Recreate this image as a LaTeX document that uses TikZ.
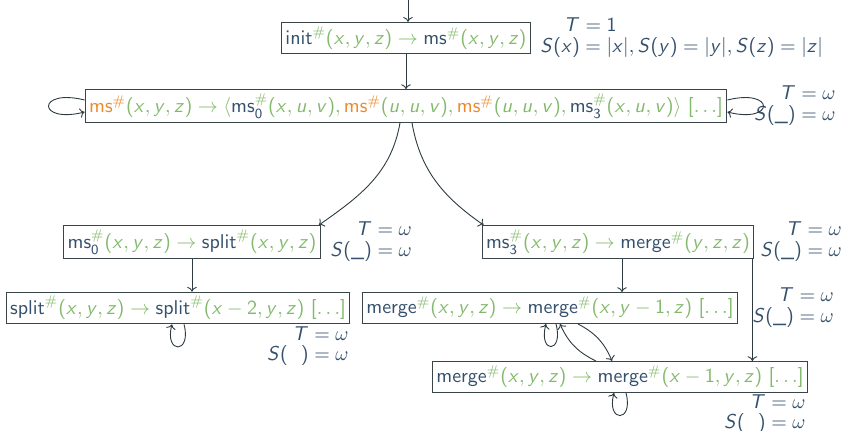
\documentclass[tikz,border=0pt]{standalone}
\usepackage{xcolor}
\usepackage{tikz}
\usetikzlibrary{arrows.meta,positioning,calc}
\renewcommand{\familydefault}{\sfdefault}
% sans serif math, as in the slides
\DeclareSymbolFont{operators}{OT1}{cmss}{m}{n}
\DeclareSymbolFont{sfletters}{OT1}{cmss}{m}{sl}
\DeclareMathSymbol{x}{\mathalpha}{sfletters}{`x}
\DeclareMathSymbol{y}{\mathalpha}{sfletters}{`y}
\DeclareMathSymbol{z}{\mathalpha}{sfletters}{`z}
\DeclareMathSymbol{u}{\mathalpha}{sfletters}{`u}
\DeclareMathSymbol{v}{\mathalpha}{sfletters}{`v}
\DeclareMathSymbol{S}{\mathalpha}{sfletters}{`S}
\DeclareMathSymbol{T}{\mathalpha}{sfletters}{`T}
\definecolor{fnblue}{HTML}{34506C}
\definecolor{argreen}{HTML}{82B96B}
\definecolor{recorange}{HTML}{EB8A2A}
\definecolor{boxgray}{HTML}{3A4548}
\definecolor{linedark}{HTML}{2D3B40}
\newcommand{\fnc}{\color{fnblue}}
\newcommand{\argc}{\color{argreen}}
\newcommand{\recc}{\color{recorange}}
\newcommand{\fn}[1]{\fnc\mathrm{#1}^{\textcolor{argreen}{\#}}\argc}
\newcommand{\fnsub}[2]{\fnc\mathrm{#1}^{\textcolor{argreen}{\#}}_{#2}\argc}
\newcommand{\recfn}[1]{\recc\mathrm{#1}^{\#}\argc}
\newcommand{\bound}[1]{\renewcommand{\arraystretch}{0.8}$\begin{array}{@{}r@{}l@{}}#1\end{array}$}
\tikzset{
  rule/.style={draw=boxgray, line width=0.5pt, fill=white, text=fnblue, inner sep=2pt, minimum height=15.5pt},
  note/.style={text=fnblue, inner sep=0pt},
  arr/.style={-{To[length=2.4pt,width=4.8pt]}, draw=linedark, line width=0.45pt}
}
\begin{document}
\begin{tikzpicture}[x=0.5pt, y=-0.5pt, font=\fontsize{9.8pt}{11.8pt}\selectfont]
  \useasboundingbox (0,0) rectangle (842,430);
  \coordinate (entry) at (408,0);
  \node[rule] (init) at (406,38) {$\fn{init}(x,y,z)\to\fn{ms}(x,y,z)$};
  \node[rule] (ms) at (406,106) {$\recfn{ms}(x,y,z)\to\langle\fnsub{ms}{0}(x,u,v),\recfn{ms}(u,u,v),\recfn{ms}(u,u,v),\fnsub{ms}{3}(x,u,v)\rangle\ [\ldots]$};
  \node[rule] (ms0) at (192,242) {$\fnsub{ms}{0}(x,y,z)\to\fn{split}(x,y,z)$};
  \node[rule] (ms3) at (618,242) {$\fnsub{ms}{3}(x,y,z)\to\fn{merge}(y,z,z)$};
  \node[rule] (split) at (178,308) {$\fn{split}(x,y,z)\to\fn{split}(x-2,y,z)\ [\ldots]$};
  \node[rule] (merge1) at (550,308) {$\fn{merge}(x,y,z)\to\fn{merge}(x,y-1,z)\ [\ldots]$};
  \node[rule] (merge2) at (620,377) {$\fn{merge}(x,y,z)\to\fn{merge}(x-1,y,z)\ [\ldots]$};

  \node[note, anchor=west] (initb) at (540,38) {\bound{T&{}=1\\S(x)&{}=|x|,S(y)=|y|,S(z)=|z|}};
  \node[note, anchor=east] (msb) at (836,106) {\bound{T&{}=\omega\\S(\_)&{}=\omega}};
  \node[note, anchor=west] (ms0b) at (330,242) {\bound{T&{}=\omega\\S(\_)&{}=\omega}};
  \node[note, anchor=west] (ms3b) at (760,242) {\bound{T&{}=\omega\\S(\_)&{}=\omega}};
  \node[note, anchor=west] (merge1b) at (752,308) {\bound{T&{}=\omega\\S(\_)&{}=\omega}};
  \node[note, anchor=north east] (splitb) at (349,326) {\bound{T&{}=\omega\\S(\phantom{\_})&{}=\omega}};
  \node[note, anchor=north east] (merge2b) at (806,394) {\bound{T&{}=\omega\\S(\phantom{\_})&{}=\omega}};

  \draw[arr] (entry) -- (entry |- init.north);
  \draw[arr] (init) -- (ms);
  \draw[arr] ([yshift=3pt]ms.west) .. controls +(-48,-12) and +(-48,12) .. ([yshift=-3pt]ms.west);
  \draw[arr] ([yshift=3pt]ms.east) .. controls +(48,-12) and +(48,12) .. ([yshift=-3pt]ms.east);
  \draw[arr] ([xshift=-3pt]ms.south) to[out=-100, in=35] ([xshift=-1pt]ms0.north east);
  \draw[arr] ([xshift=3pt]ms.south) to[out=-80, in=145] ([xshift=1pt]ms3.north west);
  \draw[arr] (ms0.south) -- (ms0.south |- split.north);
  \draw[arr] ([xshift=2pt]ms3.south) -- ([xshift=2pt]ms3.south |- merge1.north);
  \draw[arr] ([xshift=-1pt]ms3.south east) -- ([xshift=-1pt]ms3.south east |- merge2.north);
  \draw[arr] ([xshift=3pt]split.south) .. controls +(8,30) and +(-8,30) .. ([xshift=-3pt]split.south);
  \draw[arr] ([xshift=3pt]merge1.south) .. controls +(8,30) and +(-8,30) .. ([xshift=-2pt]merge1.south);
  \draw[arr] ([xshift=14pt]merge1.south) to[bend left=20] ([xshift=-4pt]merge2.north);
  \draw[arr] ([xshift=-12pt]merge2.north) to[bend left=20] ([xshift=5pt]merge1.south);
  \draw[arr] ([xshift=3pt]merge2.south) .. controls +(8,30) and +(-8,30) .. ([xshift=-3pt]merge2.south);
\end{tikzpicture}
\end{document}
